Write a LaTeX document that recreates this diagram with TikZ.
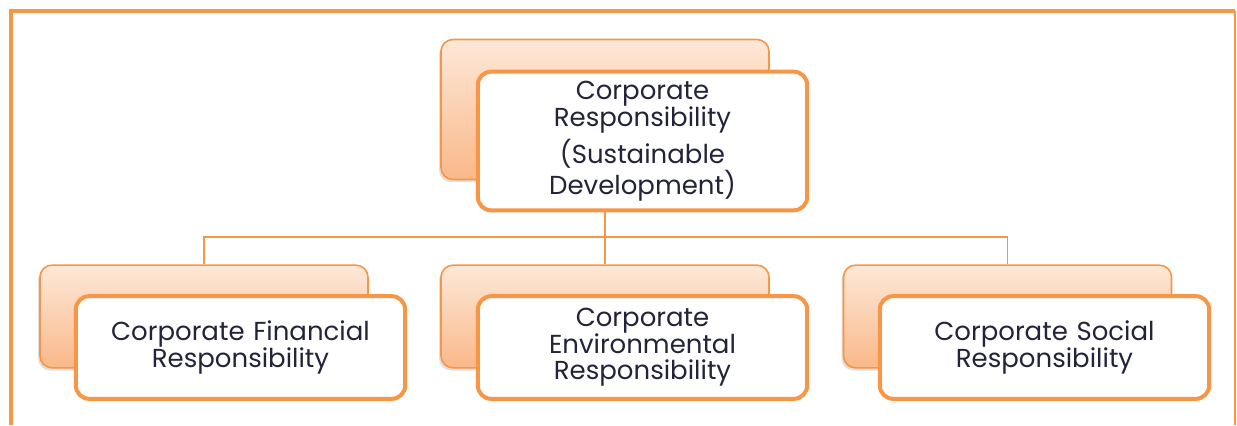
\documentclass[tikz,border=0pt]{standalone}
\usepackage{fontspec}
\setmainfont{Poppins}
\usetikzlibrary{shadows}

\definecolor{crOrange}{HTML}{F79646}
\definecolor{crPeach}{HTML}{FDE8D8}
\definecolor{crApricot}{HTML}{F9B889}
\definecolor{crInk}{HTML}{23233A}

\tikzset{
  backbox/.style={draw=crOrange, line width=1.2pt, rounded corners=9pt,
    top color=crPeach, bottom color=crApricot,
    drop shadow={shadow xshift=-1.5pt, shadow yshift=-2pt, opacity=.25},
    minimum width=246pt},
  frontbox/.style={draw=crOrange, line width=3pt, rounded corners=10pt, fill=white,
    text=crInk, align=center, font=\fontsize{19.5}{20}\selectfont,
    minimum width=247pt, text width=235pt},
  link/.style={draw=crOrange, line width=1.3pt}
}

\begin{document}
\begin{tikzpicture}[x=.75pt,y=-.75pt]
\useasboundingbox (0,0) rectangle (1237,425);

% frame round the chart
\draw [crOrange, line width=3pt] (11,425) -- (11,11) -- (1235,11);
\draw [crOrange, line width=1.5pt] (1235,11) -- (1235,425);

% back plates
\node [backbox, minimum height=105pt] (crBack) at (605,109.5) {};
\node [backbox, minimum height=77pt] (finBack) at (204,316.5) {};
\node [backbox, minimum height=77pt] (envBack) at (605,316.5) {};
\node [backbox, minimum height=77pt] (socBack) at (1007.5,316.5) {};

% tree lines
\coordinate (hub) at (605,237);
\draw [link] (crBack.south) -- (hub);
\draw [link] (hub) -| (finBack.north);
\draw [link] (hub) -- (envBack.north);
\draw [link] (hub) -| (socBack.north);

% front cards
\node [frontbox, minimum height=104pt] (crFront) at (642.5,141)
  {Corporate\\ Responsibility\\[4pt] (Sustainable\\ Development)};
\node [frontbox, minimum height=77pt] (finFront) at (240.5,347.5)
  {Corporate Financial\\ Responsibility};
\node [frontbox, minimum height=77pt] (envFront) at (642.5,347.5)
  {Corporate\\ Environmental\\ Responsibility};
\node [frontbox, minimum height=77pt] (socFront) at (1044.5,347.5)
  {Corporate Social\\ Responsibility};
\end{tikzpicture}
\end{document}
